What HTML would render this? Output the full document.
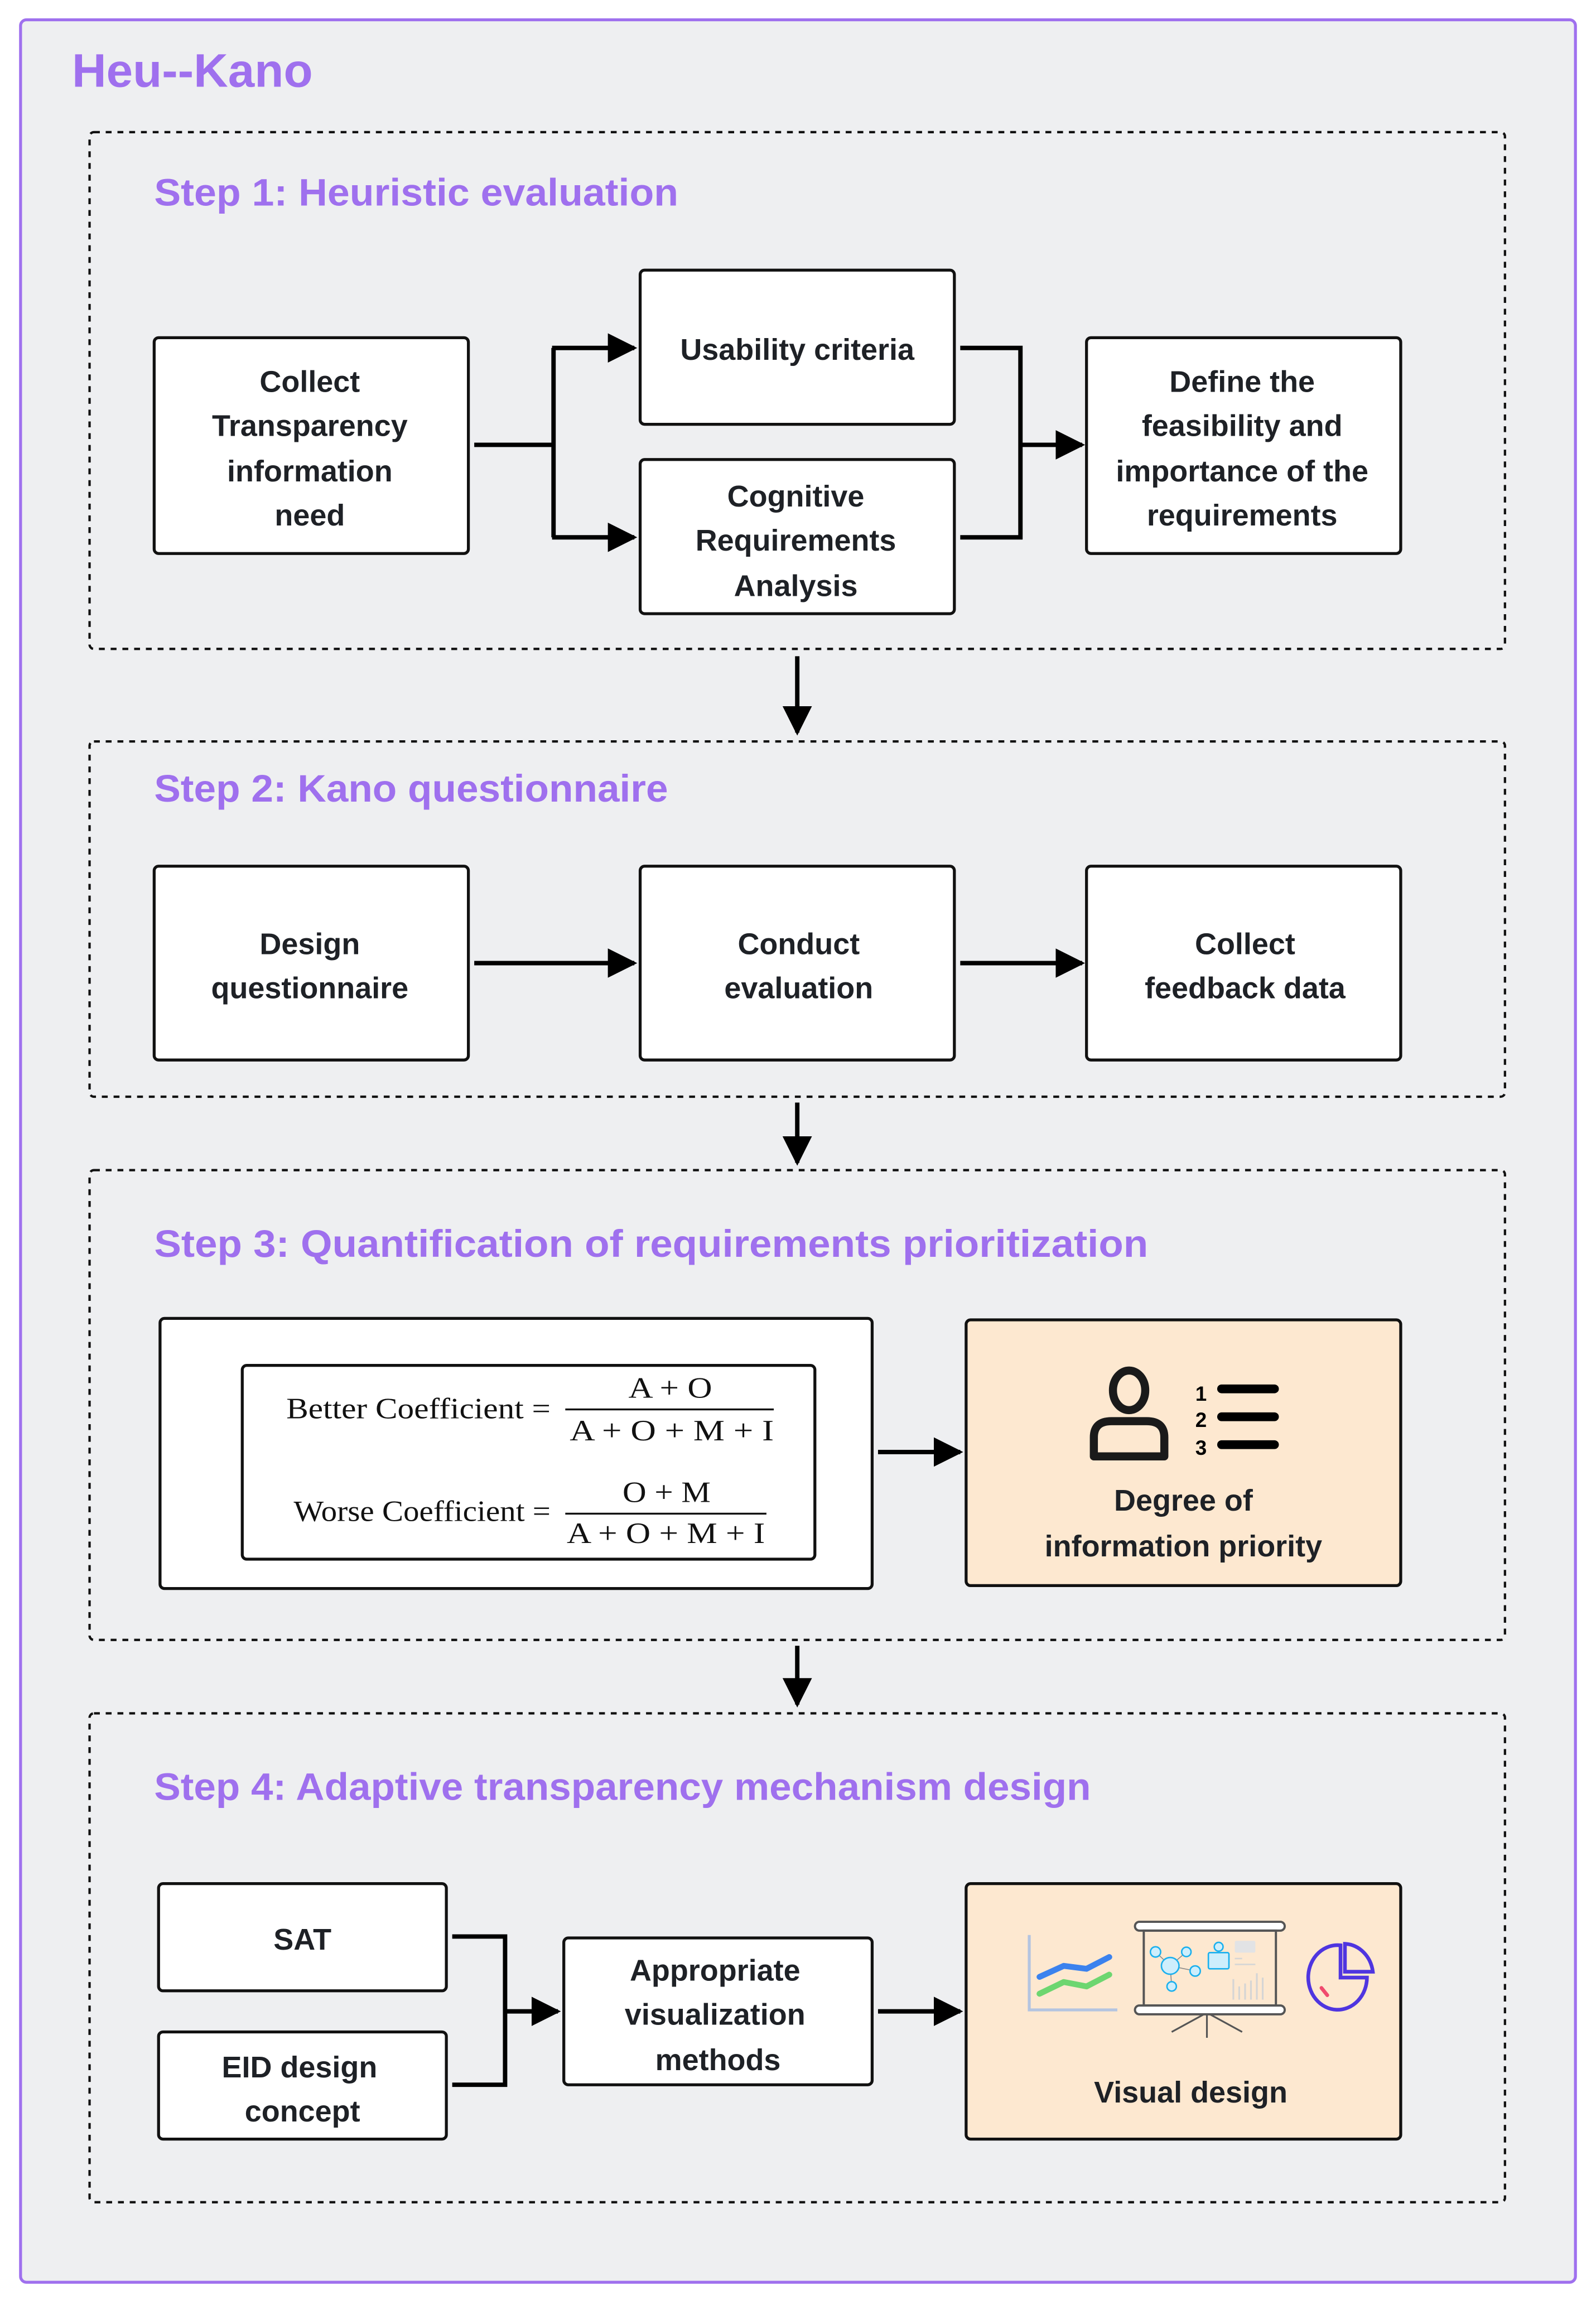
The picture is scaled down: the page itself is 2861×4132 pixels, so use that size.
<!DOCTYPE html>
<html><head><meta charset="utf-8"><style>
html,body{margin:0;padding:0;background:#fff;}
svg{display:block;}
.t{font-family:"Liberation Sans",sans-serif;font-weight:bold;fill:#1e2126;font-size:20.5px;text-anchor:middle;}
.h{font-family:"Liberation Sans",sans-serif;font-weight:bold;fill:#9f70ee;font-size:26px;}
.f{font-family:"Liberation Serif",serif;fill:#111;font-size:20px;}
.b{fill:#fff;stroke:#111;stroke-width:2;}
.d{fill:none;stroke:#111;stroke-width:1.6;stroke-dasharray:4,4;}
.l{fill:none;stroke:#000;stroke-width:3;}
</style></head><body>
<svg width="2861" height="4132" viewBox="0 0 1087 1570" preserveAspectRatio="none" xmlns="http://www.w3.org/2000/svg">
<defs>
<marker id="ar" viewBox="0 0 10 10" refX="9" refY="5" markerWidth="20" markerHeight="20" orient="auto" markerUnits="userSpaceOnUse"><path d="M0,0 L10,5 L0,10 z" fill="#000"/></marker></defs>
<rect x="0" y="0" width="1087" height="1570" fill="#fff"/>
<rect x="14" y="13.5" width="1059" height="1541" rx="4" fill="#eeeff1" stroke="#9f70ee" stroke-width="2"/>
<text x="49" y="59" class="h" style="font-size:32px" textLength="164" lengthAdjust="spacingAndGlyphs">Heu--Kano</text>

<!-- Step 1 -->
<rect x="61" y="90" width="964" height="352" rx="3" class="d"/>
<text x="105" y="140" class="h" textLength="357" lengthAdjust="spacingAndGlyphs">Step 1: Heuristic evaluation</text>
<rect x="105" y="230" width="214" height="147" rx="3" class="b"/>
<text class="t"><tspan x="211" y="267">Collect</tspan><tspan x="211" y="297">Transparency</tspan><tspan x="211" y="328">information</tspan><tspan x="211" y="358">need</tspan></text>
<rect x="436" y="184" width="214" height="105" rx="3" class="b"/>
<text class="t" x="543" y="245">Usability criteria</text>
<rect x="436" y="313" width="214" height="105" rx="3" class="b"/>
<text class="t"><tspan x="542" y="345">Cognitive</tspan><tspan x="542" y="375">Requirements</tspan><tspan x="542" y="406">Analysis</tspan></text>
<rect x="740" y="230" width="214" height="147" rx="3" class="b"/>
<text class="t"><tspan x="846" y="267">Define the</tspan><tspan x="846" y="297">feasibility and</tspan><tspan x="846" y="328">importance of the</tspan><tspan x="846" y="358">requirements</tspan></text>
<path d="M323,303 H377 M377,237 V366" class="l"/>
<path d="M376,237 H432" class="l" marker-end="url(#ar)"/>
<path d="M376,366 H432" class="l" marker-end="url(#ar)"/>
<path d="M654,237 H695 V366 H654" class="l"/>
<path d="M695,303 H737" class="l" marker-end="url(#ar)"/>
<path d="M543,447 V499" class="l" marker-end="url(#ar)"/>

<!-- Step 2 -->
<rect x="61" y="505" width="964" height="242" rx="3" class="d"/>
<text x="105" y="546" class="h" textLength="350" lengthAdjust="spacingAndGlyphs">Step 2: Kano questionnaire</text>
<rect x="105" y="590" width="214" height="132" rx="3" class="b"/>
<text class="t"><tspan x="211" y="650">Design</tspan><tspan x="211" y="680">questionnaire</tspan></text>
<rect x="436" y="590" width="214" height="132" rx="3" class="b"/>
<text class="t"><tspan x="544" y="650">Conduct</tspan><tspan x="544" y="680">evaluation</tspan></text>
<rect x="740" y="590" width="214" height="132" rx="3" class="b"/>
<text class="t"><tspan x="848" y="650">Collect</tspan><tspan x="848" y="680">feedback data</tspan></text>
<path d="M323,656 H432" class="l" marker-end="url(#ar)"/>
<path d="M654,656 H737" class="l" marker-end="url(#ar)"/>
<path d="M543,751 V792" class="l" marker-end="url(#ar)"/>

<!-- Step 3 -->
<rect x="61" y="797" width="964" height="320" rx="3" class="d"/>
<text x="105" y="856" class="h" textLength="677" lengthAdjust="spacingAndGlyphs">Step 3: Quantification of requirements prioritization</text>
<rect x="109" y="898" width="485" height="184" rx="3" class="b"/>
<rect x="165" y="930" width="390" height="132" rx="3" class="b"/>
<text class="f" x="195" y="966" textLength="180" lengthAdjust="spacingAndGlyphs">Better Coefficient =</text>
<text class="f" x="428" y="952" textLength="57" lengthAdjust="spacingAndGlyphs">A + O</text>
<line x1="385" y1="960" x2="527" y2="960" stroke="#111" stroke-width="1.3"/>
<text class="f" x="388" y="981" textLength="139" lengthAdjust="spacingAndGlyphs">A + O + M + I</text>
<text class="f" x="200" y="1036" textLength="175" lengthAdjust="spacingAndGlyphs">Worse Coefficient =</text>
<text class="f" x="424" y="1023" textLength="60" lengthAdjust="spacingAndGlyphs">O + M</text>
<line x1="385" y1="1031" x2="522" y2="1031" stroke="#111" stroke-width="1.3"/>
<text class="f" x="386" y="1051" textLength="135" lengthAdjust="spacingAndGlyphs">A + O + M + I</text>
<path d="M598,989 H654" class="l" marker-end="url(#ar)"/>
<rect x="658" y="899" width="296" height="181" rx="3" fill="#fde8d0" stroke="#111" stroke-width="2"/>
<ellipse cx="769" cy="947" rx="11" ry="13.5" fill="none" stroke="#1a1a1a" stroke-width="5.5"/>
<path d="M745,992 V979 Q745,968 757,968 H781 Q793,968 793,979 V992 Z" fill="none" stroke="#1a1a1a" stroke-width="5.5" stroke-linejoin="round"/>
<text x="818" y="954" style="font-family:'Liberation Sans';font-weight:bold;font-size:14px" text-anchor="middle">1</text>
<text x="818" y="972" style="font-family:'Liberation Sans';font-weight:bold;font-size:14px" text-anchor="middle">2</text>
<text x="818" y="991" style="font-family:'Liberation Sans';font-weight:bold;font-size:14px" text-anchor="middle">3</text>
<path d="M832,946 H868 M832,965 H868 M832,984 H868" stroke="#000" stroke-width="6" stroke-linecap="round"/>
<text class="t"><tspan x="806" y="1029">Degree of</tspan><tspan x="806" y="1060">information priority</tspan></text>
<path d="M543,1121 V1161" class="l" marker-end="url(#ar)"/>

<!-- Step 4 -->
<rect x="61" y="1167" width="964" height="333" rx="3" class="d"/>
<text x="105" y="1226" class="h" textLength="638" lengthAdjust="spacingAndGlyphs">Step 4: Adaptive transparency mechanism design</text>
<rect x="108" y="1283" width="196" height="73" rx="3" class="b"/>
<text class="t" x="206" y="1328">SAT</text>
<rect x="108" y="1384" width="196" height="73" rx="3" class="b"/>
<text class="t"><tspan x="204" y="1415">EID design</tspan><tspan x="206" y="1445">concept</tspan></text>
<rect x="384" y="1320" width="210" height="100" rx="3" class="b"/>
<text class="t"><tspan x="487" y="1349">Appropriate</tspan><tspan x="487" y="1379">visualization</tspan><tspan x="489" y="1410">methods</tspan></text>
<path d="M308,1319 H344 V1420 H308" class="l"/>
<path d="M344,1370 H380" class="l" marker-end="url(#ar)"/>
<path d="M598,1370 H654" class="l" marker-end="url(#ar)"/>
<rect x="658" y="1283" width="296" height="174" rx="3" fill="#fde8d0" stroke="#111" stroke-width="2"/>
<!-- line chart -->
<path d="M701,1318 V1369 H761" stroke="#b4c4e0" stroke-width="2" fill="none"/>
<path d="M708,1346.5 L724.5,1339 L740,1341 L755.5,1333" stroke="#3b82ee" stroke-width="4" fill="none" stroke-linecap="round" stroke-linejoin="round"/>
<path d="M708,1358 L724.5,1350 L740,1353 L755.5,1345" stroke="#6dd670" stroke-width="4" fill="none" stroke-linecap="round" stroke-linejoin="round"/>
<!-- board -->
<rect x="773" y="1309" width="102" height="6" rx="3" fill="#fff" stroke="#555" stroke-width="1.5"/>
<rect x="779" y="1315" width="90" height="51" fill="none" stroke="#555" stroke-width="1.5"/>
<rect x="773" y="1366" width="102" height="6" rx="3" fill="#fff" stroke="#555" stroke-width="1.5"/>
<path d="M822,1372 V1388 M820,1372 L798,1384 M824,1372 L846,1384" stroke="#555" stroke-width="1.2"/>
<path d="M797,1339 L787,1329.5 M797,1339 L808,1329.5 M797,1339 L814,1342.5 M797,1339 L798,1353" stroke="#888" stroke-width="0.6"/>
<g fill="#cdeefc" stroke="#1ab0ee" stroke-width="1">
<ellipse cx="797" cy="1339" rx="6" ry="5.7"/><ellipse cx="787" cy="1329.5" rx="3.5" ry="3.5"/><ellipse cx="808" cy="1329.5" rx="3.2" ry="3.2"/><ellipse cx="814" cy="1342.5" rx="3.5" ry="3.5"/><ellipse cx="798" cy="1353" rx="3.2" ry="3.2"/>
<rect x="823" y="1330" width="14" height="11" rx="1"/><ellipse cx="830" cy="1326" rx="3" ry="3"/></g>
<rect x="841" y="1322" width="14" height="8" rx="1" fill="#e2e3e5"/>
<path d="M841,1334 H846 M841,1338 H855" stroke="#d5d5d5" stroke-width="1"/>
<path d="M826,1362 V1348 M830,1362 V1353 M834,1362 V1351 M838,1362 V1349 M842,1362 V1344 M846,1362 V1347" stroke="#d5d5d5" stroke-width="1.2" transform="translate(14,0)"/>
<!-- pie -->
<path d="M913,1325 A20,22 0 1 0 931,1347 L913,1347 Z" fill="none" stroke="#4f35e0" stroke-width="2.5"/>
<path d="M916,1324 V1343 H935 A20,22 0 0 0 916,1324 Z" fill="none" stroke="#4f35e0" stroke-width="2.5"/>
<path d="M900,1354 L904,1359" stroke="#f04a6e" stroke-width="2.5" stroke-linecap="round"/>
<text class="t" x="811" y="1432">Visual design</text>
</svg>
</body></html>
